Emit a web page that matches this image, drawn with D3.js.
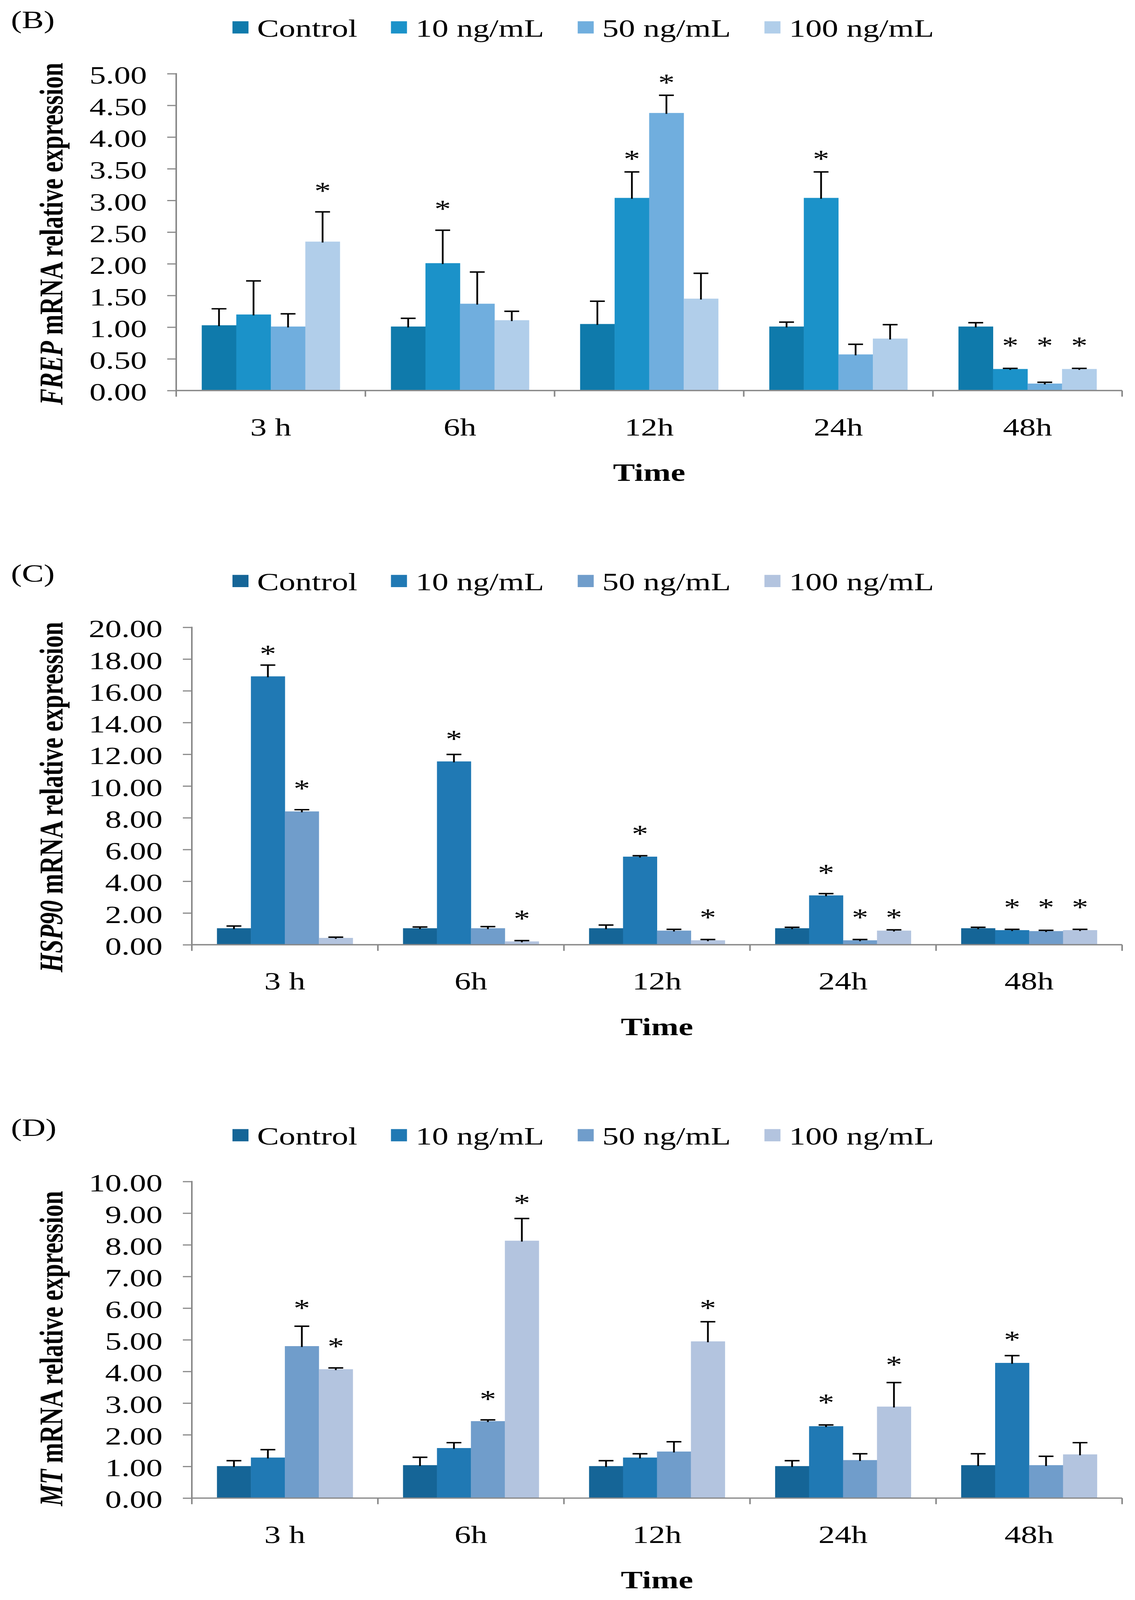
<!DOCTYPE html>
<html>
<head>
<meta charset="utf-8">
<script src="https://cdn.jsdelivr.net/npm/d3@7"></script>
<style>
  html, body { margin: 0; padding: 0; background: #fff; overflow: hidden; }
  svg { display: block; }
  text { font-family: "Liberation Serif", "Times New Roman", serif; fill: #000; }
</style>
</head>
<body>
<svg id="chart"></svg>
<script>
// ---------- DATA ----------
const categories = ["3 h", "6h", "12h", "24h", "48h"];
const seriesNames = ["Control", "10 ng/mL", "50 ng/mL", "100 ng/mL"];

// Panel B: FREP (rows = time points, columns = series)
const frepMean = [
  [1.03, 1.20, 1.01, 2.35],
  [1.01, 2.01, 1.37, 1.11],
  [1.05, 3.04, 4.38, 1.45],
  [1.01, 3.04, 0.57, 0.82],
  [1.01, 0.34, 0.11, 0.34]
];
const frepErr = [
  [0.26, 0.53, 0.20, 0.47],
  [0.13, 0.52, 0.50, 0.14],
  [0.36, 0.41, 0.28, 0.40],
  [0.07, 0.41, 0.16, 0.22],
  [0.06, 0.01, 0.02, 0.01]
];
const frepStars = [
  [null, null, null, 3.21],
  [null, 2.93, null, null],
  [null, 3.72, 4.92, null],
  [null, 3.72, null, null],
  [null, 0.77, 0.77, 0.77]
];
const frepTicks = [0, 0.5, 1, 1.5, 2, 2.5, 3, 3.5, 4, 4.5, 5];

// Panel C: HSP90
const hspMean = [
  [1.04, 16.91, 8.40, 0.43],
  [1.04, 11.55, 1.04, 0.21],
  [1.04, 5.55, 0.89, 0.28],
  [1.04, 3.11, 0.28, 0.89],
  [1.04, 0.92, 0.86, 0.92]
];
const hspErr = [
  [0.14, 0.71, 0.11, 0.05],
  [0.08, 0.44, 0.10, 0.05],
  [0.20, 0.06, 0.08, 0.05],
  [0.06, 0.11, 0.05, 0.05],
  [0.06, 0.05, 0.05, 0.05]
];
const hspStars = [
  [null, 18.58, 10.09, null],
  [null, 13.22, null, 1.90],
  [null, 7.24, null, 1.96],
  [null, 4.77, 1.96, 1.96],
  [null, 2.60, 2.60, 2.60]
];
const hspTicks = [0, 2, 4, 6, 8, 10, 12, 14, 16, 18, 20];

// Panel D: MT
const mtMean = [
  [1.01, 1.28, 4.80, 4.07],
  [1.04, 1.58, 2.43, 8.13],
  [1.01, 1.28, 1.47, 4.95],
  [1.01, 2.27, 1.20, 2.89],
  [1.04, 4.27, 1.04, 1.38]
];
const mtErr = [
  [0.17, 0.25, 0.63, 0.04],
  [0.25, 0.17, 0.04, 0.70],
  [0.17, 0.12, 0.31, 0.62],
  [0.17, 0.04, 0.20, 0.76],
  [0.36, 0.23, 0.28, 0.37]
];
const mtStars = [
  [null, null, 6.12, 4.91],
  [null, null, 3.25, 9.45],
  [null, null, null, 6.12],
  [null, 3.14, null, 4.33],
  [null, 5.12, null, null]
];
const mtTicks = [0, 1, 2, 3, 4, 5, 6, 7, 8, 9, 10];

// ---------- STYLE / LAYOUT ----------
const colorsB = ["#0f7aab", "#1b92c9", "#70aede", "#b1ceea"];
const colorsCD = ["#156597", "#2079b4", "#709dcb", "#b3c4df"];
const FS = 84;
const axisColor = "#898989";
const W = 2905, H = 5494;

const panels = [
  { label: "(B)", gene: "FREP", mean: frepMean, err: frepErr, stars: frepStars, ticks: frepTicks,
    colors: colorsB, left: 451, right: 2872, top: 253, bottom: 1341, titleShift: 6 },
  { label: "(C)", gene: "HSP90", mean: hspMean, err: hspErr, stars: hspStars, ticks: hspTicks,
    colors: colorsCD, left: 491, right: 2872, top: 2154, bottom: 3244, titleShift: 38 },
  { label: "(D)", gene: "MT", mean: mtMean, err: mtErr, stars: mtStars, ticks: mtTicks,
    colors: colorsCD, left: 491, right: 2872, top: 4057, bottom: 5144, titleShift: 30 }
];

// fit the full figure into the visible window
const vw = window.innerWidth || W;
const vh = Math.min(window.innerHeight || H, H);
const svg = d3.select("#chart")
  .attr("width", Math.min(vw, W)).attr("height", vh)
  .attr("viewBox", `0 0 ${W} ${H}`)
  .attr("preserveAspectRatio", "none");

svg.append("rect").attr("width", W).attr("height", H).attr("fill", "#fff");

panels.forEach(p => {
  const g = svg.append("g");
  const yMax = d3.max(p.ticks);
  const y = d3.scaleLinear().domain([0, yMax]).range([p.bottom, p.top]);
  const pad = 0.27;
  const x = d3.scaleBand().domain(categories).range([p.left, p.right])
    .paddingInner(pad).paddingOuter(pad / 2);
  const xs = d3.scaleBand().domain(seriesNames).range([0, x.bandwidth()]).padding(0);

  // panel label
  g.append("text").attr("x", 28).attr("y", p.top - 157)
    .attr("font-size", FS).text(p.label);

  // legend
  let lx = 595;
  const ly = p.top - 127;
  seriesNames.forEach((s, i) => {
    g.append("rect").attr("x", lx).attr("y", ly - 53).attr("width", 41).attr("height", 42)
      .attr("fill", p.colors[i]);
    const t = g.append("text").attr("x", lx + 63).attr("y", ly).attr("font-size", FS).text(s);
    const w = t.node().getComputedTextLength();
    lx = lx + 63 + w + 86;
  });

  // bars
  const rows = [];
  categories.forEach((c, ci) => {
    seriesNames.forEach((s, si) => {
      rows.push({ c, s, si, v: p.mean[ci][si], e: p.err[ci][si], star: p.stars[ci][si] });
    });
  });

  g.append("g").selectAll("rect").data(rows).join("rect")
    .attr("x", d => x(d.c) + xs(d.s))
    .attr("y", d => y(d.v))
    .attr("width", xs.bandwidth() + 0.5)
    .attr("height", d => p.bottom - y(d.v))
    .attr("fill", d => p.colors[d.si]);

  // error bars (plus direction)
  const eb = g.append("g");
  rows.forEach(d => {
    const cx = x(d.c) + xs(d.s) + xs.bandwidth() / 2;
    eb.append("line").attr("x1", cx).attr("x2", cx)
      .attr("y1", y(d.v) + 3).attr("y2", y(d.v + d.e))
      .attr("stroke", "#000").attr("stroke-width", 4.5);
    eb.append("line").attr("x1", cx - 19).attr("x2", cx + 19)
      .attr("y1", y(d.v + d.e)).attr("y2", y(d.v + d.e))
      .attr("stroke", "#000").attr("stroke-width", 5);
  });

  // significance stars
  g.append("g").selectAll("text").data(rows.filter(d => d.star != null)).join("text")
    .attr("x", d => x(d.c) + xs(d.s) + xs.bandwidth() / 2)
    .attr("y", d => y(d.star))
    .attr("dy", "0.5em")
    .attr("text-anchor", "middle")
    .attr("font-size", FS)
    .text("*");

  // y axis
  const yAxis = d3.axisLeft(y).tickValues(p.ticks).tickFormat(d3.format(".2f"))
    .tickSize(23).tickSizeOuter(0).tickPadding(52);
  const ya = g.append("g").attr("transform", `translate(${p.left},0)`).call(yAxis);
  ya.select(".domain").remove();
  ya.selectAll(".tick line").attr("stroke", axisColor).attr("stroke-width", 4);
  ya.selectAll(".tick text").attr("font-size", FS)
    .attr("font-family", "Liberation Serif").attr("fill", "#000").attr("dy", "0.4em");
  g.append("line").attr("x1", p.left).attr("x2", p.left)
    .attr("y1", p.top - 2).attr("y2", p.bottom + 21)
    .attr("stroke", axisColor).attr("stroke-width", 4);

  // x axis
  g.append("line").attr("x1", p.left).attr("x2", p.right)
    .attr("y1", p.bottom).attr("y2", p.bottom)
    .attr("stroke", axisColor).attr("stroke-width", 4.5);
  const bounds = categories.map(c => x(c) - x.step() * pad / 2);
  bounds.push(p.right);
  g.append("g").selectAll("line").data(bounds.slice(1)).join("line")
    .attr("x1", d => d).attr("x2", d => d)
    .attr("y1", p.bottom).attr("y2", p.bottom + 21)
    .attr("stroke", axisColor).attr("stroke-width", 4);
  g.append("g").selectAll("text").data(categories).join("text")
    .attr("x", c => x(c) + x.bandwidth() / 2)
    .attr("y", p.bottom + 154)
    .attr("text-anchor", "middle").attr("font-size", FS)
    .text(c => c);

  // x title
  g.append("text").attr("x", (p.left + p.right) / 2).attr("y", p.bottom + 310)
    .attr("text-anchor", "middle").attr("font-size", FS).attr("font-weight", "bold")
    .text("Time");

  // y title
  const cy = (p.top + p.bottom) / 2 + p.titleShift;
  const yt = g.append("text")
    .attr("transform", `translate(160,${cy}) rotate(-90)`)
    .attr("text-anchor", "middle").attr("font-size", FS).attr("font-weight", "bold");
  yt.append("tspan").attr("font-style", "italic").text(p.gene);
  yt.append("tspan").text(" mRNA relative expression");
});
</script>
</body>
</html>
